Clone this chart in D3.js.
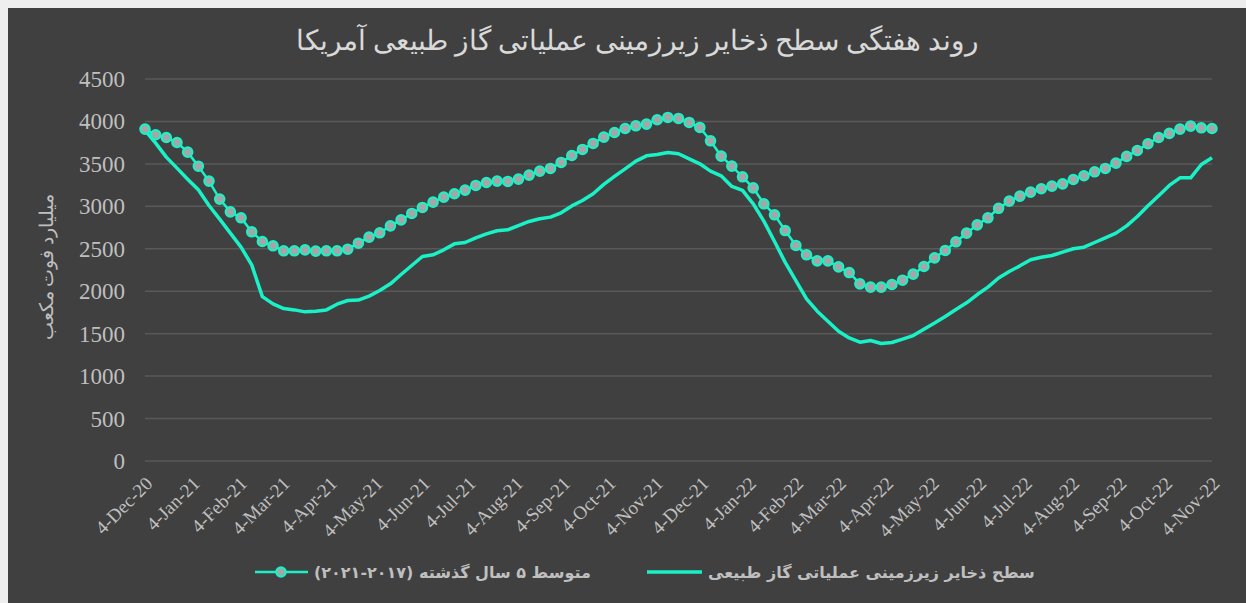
<!DOCTYPE html>
<html>
<head>
<meta charset="utf-8">
<script src="https://cdn.jsdelivr.net/npm/d3@7"></script>
<style>
  body { margin: 0; background: #eeeeee; }
  svg { display: block; }
  .serif { font-family: "Liberation Serif", "Times New Roman", serif; }
  .legend text { font-family: "DejaVu Sans", sans-serif; font-weight: bold; }
</style>
</head>
<body>
<div class="chart"></div>
<script>
var svgWidth = 1246;
var svgHeight = 603;

// weekly readings, first week ends 4-Dec-20
var firstWeek = "4-Dec-20";

// 5-year average (2017-2021), bcf
var avg5yr = [
  3910, 3843, 3811, 3752, 3638, 3473, 3297, 3085, 2935, 2865,
  2700, 2586, 2535, 2476, 2476, 2487, 2472, 2476, 2476, 2495,
  2566, 2637, 2688, 2770, 2841, 2916, 2987, 3049, 3108, 3148,
  3191, 3246, 3281, 3297, 3293, 3320, 3368, 3415, 3446, 3517,
  3599, 3670, 3741, 3815, 3870, 3917, 3949, 3969, 4020, 4047,
  4035, 3988, 3929, 3772, 3591, 3474, 3348, 3218, 3030, 2900,
  2715, 2539, 2429, 2358, 2358, 2287, 2220, 2087, 2048, 2048,
  2079, 2130, 2201, 2291, 2393, 2480, 2582, 2684, 2782, 2865,
  2977, 3061, 3120, 3167, 3207, 3238, 3265, 3316, 3360, 3407,
  3446, 3509, 3588, 3658, 3737, 3811, 3859, 3910, 3945, 3925,
  3917
];

// working gas in storage, bcf
var storage = [
  3894, 3745, 3580, 3450, 3320, 3195, 3010, 2849, 2684, 2519,
  2311, 1937, 1851, 1796, 1780, 1757, 1765, 1780, 1847, 1891,
  1896, 1942, 2008, 2087, 2197, 2303, 2409, 2429, 2488, 2558,
  2574, 2629, 2676, 2712, 2723, 2774, 2822, 2853, 2873, 2924,
  3005, 3069, 3148, 3258, 3352, 3442, 3533, 3595, 3611, 3635,
  3619, 3560, 3501, 3415, 3360, 3234, 3187, 3030, 2826, 2586,
  2340, 2126, 1910, 1765, 1647, 1529, 1450, 1400, 1419, 1384,
  1396, 1435, 1478, 1553, 1627, 1702, 1785, 1863, 1961, 2048,
  2156, 2232, 2299, 2370, 2401, 2421, 2460, 2500, 2519, 2574,
  2629, 2684, 2770, 2880, 3006, 3124, 3246, 3336, 3336, 3493,
  3572
];

var tickLabels = [
  "4-Dec-20", "4-Jan-21", "4-Feb-21", "4-Mar-21", "4-Apr-21", "4-May-21",
  "4-Jun-21", "4-Jul-21", "4-Aug-21", "4-Sep-21", "4-Oct-21", "4-Nov-21",
  "4-Dec-21", "4-Jan-22", "4-Feb-22", "4-Mar-22", "4-Apr-22", "4-May-22",
  "4-Jun-22", "4-Jul-22", "4-Aug-22", "4-Sep-22", "4-Oct-22", "4-Nov-22"
];

var yTicks = [0, 500, 1000, 1500, 2000, 2500, 3000, 3500, 4000, 4500];

var titleText = "روند هفتگی سطح ذخایر زیرزمینی عملیاتی گاز طبیعی آمریکا";
var yTitleText = "میلیارد فوت مکعب";
var avgName = "متوسط ۵ سال گذشته (۲۰۱۷-۲۰۲۱)";
var storageName = "سطح ذخایر زیرزمینی عملیاتی گاز طبیعی";

var lineColor = "#19f2c6";
var textColor = "#bfbfbf";

var parseDate = d3.timeParse("%d-%b-%y");
var start = parseDate(firstWeek);
var weeks = avg5yr.map((d, i) => d3.timeDay.offset(start, i * 7));
var tickDates = tickLabels.map(parseDate);

var margin = { top: 79, right: 34, bottom: 142, left: 145 };

var svg = d3.select(".chart")
  .append("svg")
  .attr("width", svgWidth)
  .attr("height", svgHeight);

// dark chart area
svg.append("rect")
  .attr("x", 8)
  .attr("y", 8)
  .attr("width", svgWidth - 8)
  .attr("height", svgHeight - 8)
  .attr("fill", "#404040");

var xScale = d3.scaleTime()
  .domain([tickDates[0], tickDates[tickDates.length - 1]])
  .range([margin.left, svgWidth - margin.right]);

var yScale = d3.scaleLinear()
  .domain([0, 4500])
  .range([svgHeight - margin.bottom, margin.top]);

// gridlines
svg.append("g")
  .selectAll("line")
  .data(yTicks)
  .enter()
  .append("line")
  .attr("x1", xScale.range()[0])
  .attr("x2", xScale.range()[1])
  .attr("y1", d => yScale(d))
  .attr("y2", d => yScale(d))
  .attr("stroke", "#595959")
  .attr("stroke-width", 1.5);

// y axis labels
svg.append("g")
  .attr("class", "serif")
  .selectAll("text")
  .data(yTicks)
  .enter()
  .append("text")
  .attr("x", 125)
  .attr("y", d => yScale(d))
  .attr("dy", "0.35em")
  .attr("text-anchor", "end")
  .style("font-size", "23px")
  .attr("fill", textColor)
  .text(d => d);

// x axis labels
svg.append("g")
  .attr("class", "serif")
  .selectAll("text")
  .data(tickDates)
  .enter()
  .append("text")
  .attr("transform", d => `translate(${xScale(d) + 4}, ${yScale(0) + 19}) rotate(-45)`)
  .attr("text-anchor", "end")
  .attr("dy", "0.35em")
  .style("font-size", "19px")
  .attr("fill", textColor)
  .text((d, i) => tickLabels[i]);

// title
svg.append("text")
  .attr("class", "serif")
  .attr("x", 637)
  .attr("y", 50)
  .attr("text-anchor", "middle")
  .attr("direction", "rtl")
  .style("font-size", "28px")
  .attr("fill", "#d9d9d9")
  .text(titleText);

// y axis title
svg.append("text")
  .attr("class", "serif")
  .attr("transform", "translate(46, 267) rotate(-90)")
  .attr("text-anchor", "middle")
  .attr("dy", "0.35em")
  .style("font-size", "19px")
  .attr("fill", textColor)
  .text(yTitleText);

var lineGen = d3.line()
  .x((d, i) => xScale(weeks[i]))
  .y(d => yScale(d));

svg.append("path")
  .datum(storage)
  .attr("d", lineGen)
  .attr("fill", "none")
  .attr("stroke", lineColor)
  .attr("stroke-width", 3.5)
  .attr("stroke-linejoin", "round");

svg.append("path")
  .datum(avg5yr)
  .attr("d", lineGen)
  .attr("fill", "none")
  .attr("stroke", lineColor)
  .attr("stroke-width", 2.5);

svg.append("g")
  .selectAll("circle")
  .data(avg5yr)
  .enter()
  .append("circle")
  .attr("cx", (d, i) => xScale(weeks[i]))
  .attr("cy", d => yScale(d))
  .attr("r", 4.7)
  .attr("fill", "#a6a6a6")
  .attr("stroke", lineColor)
  .attr("stroke-width", 2.2);

// legend
var legend = svg.append("g")
  .attr("class", "legend")
  .style("font-size", "16px")
  .attr("fill", textColor);

legend.append("line")
  .attr("x1", 255).attr("x2", 308)
  .attr("y1", 572).attr("y2", 572)
  .attr("stroke", lineColor)
  .attr("stroke-width", 2.5);
legend.append("circle")
  .attr("cx", 281).attr("cy", 572)
  .attr("r", 4.7)
  .attr("fill", "#a6a6a6")
  .attr("stroke", lineColor)
  .attr("stroke-width", 2.2);
legend.append("text")
  .attr("x", 314).attr("y", 572)
  .attr("dy", "0.35em")
  .attr("direction", "rtl")
  .attr("text-anchor", "end")
  .text(avgName);

legend.append("line")
  .attr("x1", 647).attr("x2", 702)
  .attr("y1", 572).attr("y2", 572)
  .attr("stroke", lineColor)
  .attr("stroke-width", 3.5);
legend.append("text")
  .attr("x", 708).attr("y", 572)
  .attr("dy", "0.35em")
  .attr("direction", "rtl")
  .attr("text-anchor", "end")
  .text(storageName);
</script>
</body>
</html>
